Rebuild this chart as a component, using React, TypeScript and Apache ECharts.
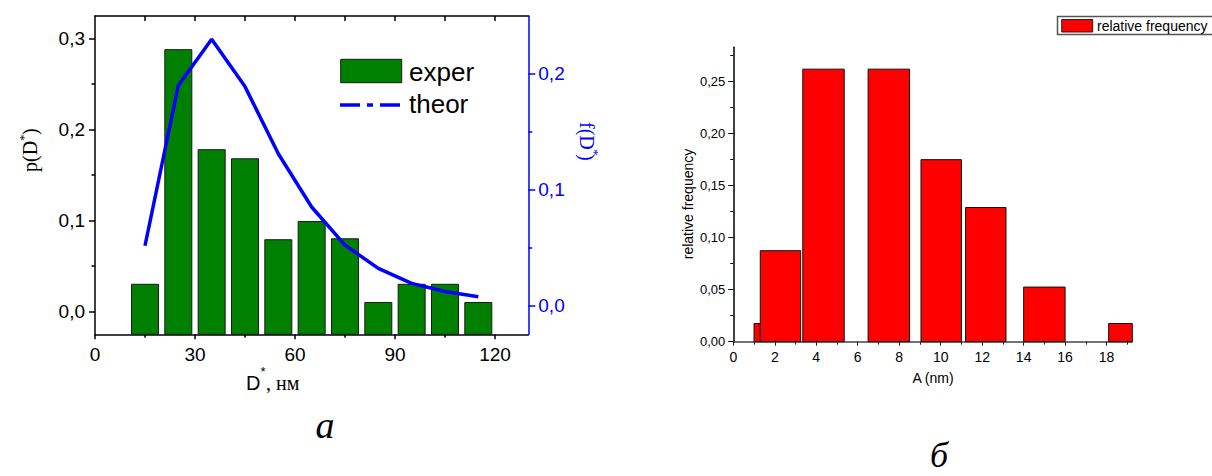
import React, { useEffect, useRef } from "react";
import * as echarts from "echarts";

// ---- Panel (a) data ----
const diamCenters = [15, 25, 35, 45, 55, 65, 75, 85, 95, 105, 115];
const experValues = [0.03, 0.288, 0.178, 0.168, 0.079, 0.099, 0.08, 0.01, 0.03, 0.03, 0.01];
const theorValues = [0.0515, 0.19, 0.23, 0.189, 0.131, 0.085, 0.052, 0.032, 0.019, 0.012, 0.0075];
const aXTicks = [0, 30, 60, 90, 120];
const aXMinor = [15, 45, 75, 105];
const aXTopTicks = [15, 30, 45, 60, 75, 90, 105, 120];
const aYTicks = [0, 0.1, 0.2, 0.3];
const aYMinor = [0.05, 0.15, 0.25];
const aY2Ticks = [0, 0.1, 0.2];
const aY2Minor = [0.05, 0.15];

// ---- Panel (б) data ----
const binStart = [1.0, 1.3, 3.35, 6.5, 9.05, 11.2, 14.0, 18.1];
const binEnd = [1.3, 3.25, 5.35, 8.5, 11.0, 13.15, 16.0, 20.05];
const relFreq = [0.0175, 0.0875, 0.262, 0.262, 0.175, 0.129, 0.0525, 0.0175];
const bXTicks = [0, 2, 4, 6, 8, 10, 12, 14, 16, 18];
const bXMinor = [1, 3, 5, 7, 9, 11, 13, 15, 17, 19];
const bYTicks = [0, 0.05, 0.1, 0.15, 0.2, 0.25];
const bYMinor = [0.025, 0.075, 0.125, 0.175, 0.225, 0.275];

const SANS = '"Liberation Sans", Arial, sans-serif';
const SERIF = '"Liberation Serif", "Times New Roman", serif';
const BLUE = "#0000ff";

function txt(text: string, x: number, y: number, font: string, fill = "#000", align = "left", extra: any = {}) {
  return {
    type: "text",
    x,
    y,
    ...extra,
    style: {
      text,
      font,
      fill,
      textAlign: align,
      align,
      textVerticalAlign: "middle",
      verticalAlign: "middle",
    },
  };
}

export default function App() {
  const ref = useRef<HTMLDivElement>(null);

  useEffect(() => {
    if (!ref.current) return;
    const chart = echarts.init(ref.current, null, { renderer: "svg" });

    const halfW = 4.05;
    const commonOff = { show: false };

    const option: any = {
      animation: false,
      backgroundColor: "#fff",
      grid: [
        { left: 95, top: 16, width: 433.3, height: 318.3, outerBoundsMode: "none" },
        { left: 733.3, top: 47.3, width: 399, height: 294.4, outerBoundsMode: "none" },
      ],
      xAxis: [
        {
          gridIndex: 0, type: "value", position: "bottom", min: 0, max: 130,
          axisLine: { onZero: false, lineStyle: { color: "#000", width: 1.5 } },
          axisTick: { customValues: aXTicks, length: 5, inside: false, lineStyle: { color: "#000", width: 1.5 } },
          axisLabel: { customValues: aXTicks, fontSize: 19, fontFamily: SANS, color: "#000", margin: 11, formatter: (v: number) => String(v) },
          splitLine: commonOff,
        },
        {
          gridIndex: 0, type: "value", position: "top", min: 0, max: 130,
          axisLine: { onZero: false, lineStyle: { color: "#000", width: 1.5 } },
          axisTick: { customValues: aXTopTicks, length: 5, inside: true, lineStyle: { color: "#000", width: 1.5 } },
          axisLabel: commonOff, splitLine: commonOff,
        },
        {
          gridIndex: 0, type: "value", position: "bottom", min: 0, max: 130,
          axisLine: { show: false, onZero: false },
          axisTick: { customValues: aXMinor, length: 3.5, inside: false, lineStyle: { color: "#000", width: 1.5 } },
          axisLabel: commonOff, splitLine: commonOff,
        },
        {
          gridIndex: 1, type: "value", position: "bottom", min: 0, max: 19.24,
          axisLine: { onZero: false, lineStyle: { color: "#444", width: 1.5 } },
          axisTick: { customValues: bXTicks, length: 4, inside: false, lineStyle: { color: "#222", width: 1 } },
          axisLabel: { customValues: bXTicks, fontSize: 14, fontFamily: SANS, color: "#000", margin: 8, formatter: (v: number) => String(v) },
          splitLine: commonOff,
        },
        {
          gridIndex: 1, type: "value", position: "bottom", min: 0, max: 19.24,
          axisLine: { show: false, onZero: false },
          axisTick: { customValues: bXMinor, length: 3, inside: false, lineStyle: { color: "#222", width: 1 } },
          axisLabel: commonOff, splitLine: commonOff,
        },
      ],
      yAxis: [
        {
          gridIndex: 0, type: "value", position: "left", min: -0.025, max: 0.325,
          axisLine: { show: true, onZero: false, lineStyle: { color: "#000", width: 1.5 } },
          axisTick: { show: true, customValues: aYTicks, length: 6, inside: false, lineStyle: { color: "#000", width: 1.5 } },
          axisLabel: { customValues: aYTicks, fontSize: 19, fontFamily: SANS, color: "#000", margin: 10, formatter: (v: number) => v.toFixed(1).replace(".", ",") },
          splitLine: commonOff,
        },
        {
          gridIndex: 0, type: "value", position: "left", min: -0.025, max: 0.325,
          axisLine: { show: false, onZero: false },
          axisTick: { show: true, customValues: aYMinor, length: 3.5, inside: false, lineStyle: { color: "#000", width: 1.5 } },
          axisLabel: commonOff, splitLine: commonOff,
        },
        {
          gridIndex: 0, type: "value", position: "right", min: -0.025, max: 0.25,
          axisLine: { show: true, onZero: false, lineStyle: { color: BLUE, width: 1.5 } },
          axisTick: { show: true, customValues: aY2Ticks, length: 7, inside: false, lineStyle: { color: BLUE, width: 1.5 } },
          axisLabel: { customValues: aY2Ticks, fontSize: 19, fontFamily: SANS, color: BLUE, margin: 10, formatter: (v: number) => v.toFixed(1).replace(".", ",") },
          splitLine: commonOff,
        },
        {
          gridIndex: 0, type: "value", position: "right", min: -0.025, max: 0.25,
          axisLine: { show: false, onZero: false },
          axisTick: { show: true, customValues: aY2Minor, length: 4, inside: false, lineStyle: { color: BLUE, width: 1.5 } },
          axisLabel: commonOff, splitLine: commonOff,
        },
        {
          gridIndex: 1, type: "value", position: "left", min: 0, max: 0.283,
          axisLine: { show: true, onZero: false, lineStyle: { color: "#000", width: 1.5 } },
          axisTick: { show: true, customValues: bYTicks, length: 5, inside: false, lineStyle: { color: "#000", width: 1 } },
          axisLabel: { customValues: bYTicks, fontSize: 13, fontFamily: SANS, color: "#000", margin: 8, formatter: (v: number) => v.toFixed(2).replace(".", ",") },
          splitLine: commonOff,
        },
        {
          gridIndex: 1, type: "value", position: "left", min: 0, max: 0.283,
          axisLine: { show: false, onZero: false },
          axisTick: { show: true, customValues: bYMinor, length: 3, inside: false, lineStyle: { color: "#000", width: 1 } },
          axisLabel: commonOff, splitLine: commonOff,
        },
      ],
      series: [
        {
          type: "custom",
          name: "exper",
          xAxisIndex: 0,
          yAxisIndex: 0,
          data: diamCenters.map((c, i) => [c, experValues[i]]),
          encode: { x: 0, y: 1 },
          z: 2,
          renderItem: (params: any, api: any) => {
            const c = api.value(0);
            const v = api.value(1);
            const p0 = api.coord([c - halfW, v]);
            const p1 = api.coord([c + halfW, v]);
            const cs = params.coordSys;
            const bottom = cs.y + cs.height;
            return {
              type: "rect",
              shape: { x: p0[0], y: p0[1], width: p1[0] - p0[0], height: bottom - p0[1] },
              style: { fill: "#008000", stroke: "#1a1a1a", lineWidth: 1 },
            };
          },
        },
        {
          type: "line",
          name: "theor",
          xAxisIndex: 0,
          yAxisIndex: 2,
          data: diamCenters.map((c, i) => [c, theorValues[i]]),
          symbol: "none",
          showSymbol: false,
          z: 5,
          lineStyle: { color: BLUE, width: 3.5 },
        },
        {
          type: "custom",
          name: "relative frequency",
          xAxisIndex: 3,
          yAxisIndex: 4,
          data: binStart.map((s, i) => [s, binEnd[i], relFreq[i]]),
          encode: { x: [0, 1], y: 2 },
          z: 2,
          renderItem: (params: any, api: any) => {
            const s = api.value(0);
            const e = api.value(1);
            const v = api.value(2);
            const tl = api.coord([s, v]);
            const br = api.coord([e, 0]);
            const cs = params.coordSys;
            const right = Math.min(br[0], cs.x + cs.width);
            return {
              type: "rect",
              shape: { x: tl[0], y: tl[1], width: right - tl[0], height: br[1] - tl[1] },
              style: { fill: "#ff0000", stroke: "#111", lineWidth: 1 },
            };
          },
        },
      ],
      graphic: [
        // Panel (a) legend
        { type: "rect", shape: { x: 340.7, y: 59.3, width: 61, height: 23.4 }, style: { fill: "#008000", stroke: "#1a1a1a", lineWidth: 1 } },
        txt("exper", 409, 71.5, `26px ${SANS}`),
        { type: "line", shape: { x1: 340, y1: 105, x2: 402, y2: 105 }, style: { stroke: BLUE, lineWidth: 3.5, lineDash: [20, 7, 6, 7] } },
        txt("theor", 409, 103.5, `26px ${SANS}`),
        // Panel (a) y-axis title p(D*)
        {
          type: "group", x: 30, y: 150, rotation: Math.PI / 2,
          children: [
            txt("p(D", -22, 0, `20px ${SERIF}`),
            txt("*", 9, -7, `13px ${SERIF}`),
            txt(")", 15, 0, `20px ${SERIF}`),
          ],
        },
        // Panel (a) right y-axis title f(D*)
        {
          type: "group", x: 587, y: 140, rotation: -Math.PI / 2,
          children: [
            txt("f(D", -18, 0, `20px ${SERIF}`, BLUE),
            txt("*", 9, -7, `13px ${SERIF}`, BLUE),
            txt(")", 14, 0, `20px ${SERIF}`, BLUE),
          ],
        },
        // Panel (a) x-axis title D*, нм
        txt("D", 246, 383, `20px ${SANS}`),
        txt("*", 260.5, 371, `13px ${SANS}`),
        txt(", нм", 266, 383, `20px ${SERIF}`),
        // caption a
        txt("a", 325, 425, `italic 38px ${SERIF}`, "#000", "center"),
        // Panel (б) legend
        { type: "rect", shape: { x: 1057.5, y: 16.5, width: 170, height: 18 }, style: { fill: "#fff", stroke: "#555", lineWidth: 1.5 } },
        { type: "rect", shape: { x: 1061.7, y: 19.5, width: 31, height: 12.5 }, style: { fill: "#ff0000", stroke: "#222", lineWidth: 1 } },
        txt("relative frequency", 1097, 26, `14px ${SANS}`),
        // Panel (б) y-axis title
        {
          type: "group", x: 688, y: 204, rotation: Math.PI / 2,
          children: [txt("relative frequency", 0, 0, `14px ${SANS}`, "#000", "center")],
        },
        // Panel (б) x-axis title
        txt("A (nm)", 933, 378, `14px ${SANS}`, "#000", "center"),
        // caption б
        txt("б", 939, 455, `italic 36px ${SERIF}`, "#000", "center"),
      ],
    };

    chart.setOption(option);
    return () => chart.dispose();
  }, []);

  return (
    <div
      ref={ref}
      style={{ position: "absolute", left: 0, top: 0, width: 1212, height: 476, background: "#fff" }}
    />
  );
}
